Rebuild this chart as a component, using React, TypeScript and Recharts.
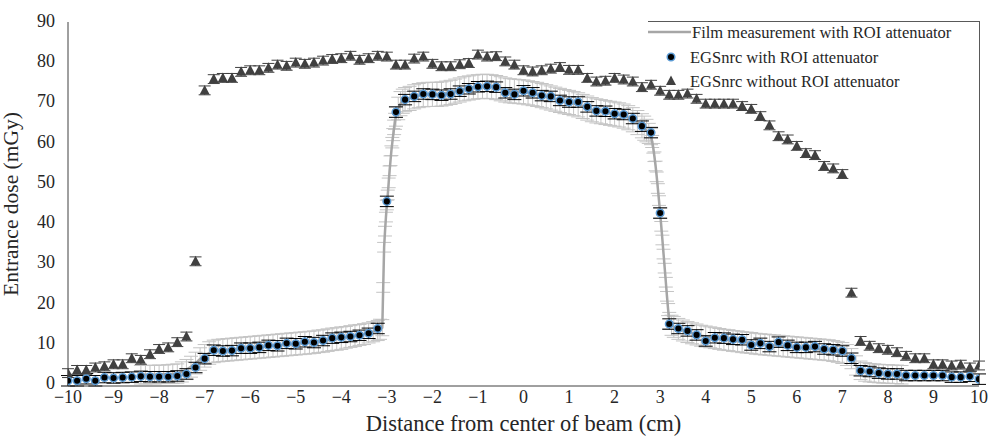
import React from 'react';
import { ComposedChart, Line, Scatter, XAxis, YAxis, ErrorBar } from 'recharts';

// Simulation grid (cm), every 0.2 cm from -10 to 10
const simPos = Array.from({ length: 101 }, (_, i) => Math.round((-10 + i * 0.2) * 10) / 10);

// EGSnrc with ROI attenuator (mGy)
const withRoi = [
  0.8, 0.8, 1.3, 0.8, 1.6, 1.5, 1.6, 1.7, 1.9, 1.8, 1.8, 1.8, 2.0, 2.5, 4.1, 6.3, 8.4, 8.2,
  8.3, 8.9, 8.9, 9.1, 9.6, 9.5, 10.1, 10.0, 10.5, 10.3, 10.8, 11.4, 11.6, 11.8, 12.1, 12.6, 13.8,
  45.4,
  67.6, 70.7, 71.5, 72.1, 72.0, 71.8, 72.1, 72.8, 73.4, 73.9, 74.0, 73.8, 72.4, 72.0, 72.9,
  72.4, 71.7, 71.5, 70.5, 70.1, 70.1, 68.9, 67.9, 67.8, 67.2, 67.0, 66.0, 64.1, 62.5,
  42.5,
  14.9, 13.8, 13.2, 12.2, 10.7, 11.5, 11.4, 11.1, 11.0, 9.7, 10.1, 9.3, 10.4, 9.6, 9.1, 9.1,
  9.3, 8.7, 8.5, 8.2, 6.4, 3.3, 3.1, 2.7, 2.5, 2.5, 2.1, 2.1, 2.1, 2.1, 2.1, 1.7, 1.7, 1.9, 1.2,
];
const withRoiErr = 1.3;

// EGSnrc without ROI attenuator (mGy)
const withoutRoi = [
  2.7, 3.5, 3.5, 4.1, 4.4, 4.9, 4.9, 6.4, 6.0, 7.4, 8.7, 9.1, 10.4, 11.8,
  30.5,
  73.0, 75.8, 76.1, 76.1, 77.6, 78.0, 78.0, 78.6, 79.4, 79.1, 79.9, 79.6, 79.9, 80.4, 80.8,
  81.0, 81.6, 80.6, 81.0, 81.6, 81.4, 79.4, 79.4, 80.9, 81.4, 79.6, 79.0, 79.0, 79.5, 79.8,
  81.9, 81.4, 81.5, 80.2, 79.4, 78.0, 77.7, 78.0, 78.4, 78.8, 78.1, 78.1, 76.1, 75.2, 75.4,
  76.1, 75.7, 75.2, 73.8, 74.4, 72.9, 71.9, 71.9, 72.2, 70.9, 69.7, 69.7, 69.7, 69.7, 69.1,
  68.4, 66.6, 64.3, 61.6, 60.8, 59.2, 57.4, 56.9, 54.2, 53.6, 52.2,
  22.7,
  10.7, 9.5, 8.9, 8.5, 7.9, 7.0, 6.4, 6.4, 4.9, 4.9, 4.6, 4.8, 4.1, 4.6,
];
const withoutRoiErr = 1.1;

// Film measurement: [position cm, dose mGy, uncertainty mGy]
const filmLeft: [number, number, number][] = [
  [-8.4, 2.3, 2.3], [-8.3, 2.3, 2.3], [-8.2, 2.4, 2.3], [-8.1, 2.3, 2.3], [-8.0, 2.4, 2.3],
  [-7.9, 2.4, 2.3], [-7.8, 2.5, 2.3], [-7.7, 2.5, 2.4], [-7.6, 2.6, 2.4], [-7.5, 3.0, 2.5],
  [-7.4, 3.6, 2.5], [-7.3, 4.3, 2.6], [-7.2, 5.2, 2.7], [-7.1, 6.2, 2.8], [-7.0, 7.0, 2.8],
  [-6.9, 7.7, 2.8], [-6.8, 8.1, 2.8], [-6.7, 8.3, 2.8], [-6.6, 8.4, 2.8], [-6.5, 8.5, 2.8],
  [-6.4, 8.6, 2.8], [-6.3, 8.7, 2.8], [-6.2, 8.8, 2.8], [-6.1, 8.9, 2.8], [-6.0, 9.0, 2.8],
  [-5.9, 9.1, 2.8], [-5.8, 9.2, 2.8], [-5.7, 9.3, 2.8], [-5.6, 9.4, 2.8], [-5.5, 9.5, 2.8],
  [-5.4, 9.6, 2.8], [-5.3, 9.7, 2.8], [-5.2, 9.8, 2.8], [-5.1, 9.9, 2.8], [-5.0, 10.0, 2.8],
  [-4.9, 10.1, 2.8], [-4.8, 10.2, 2.8], [-4.7, 10.3, 2.8], [-4.6, 10.4, 2.8], [-4.5, 10.6, 2.8],
  [-4.4, 10.7, 2.8], [-4.3, 10.9, 2.8], [-4.2, 11.1, 2.8], [-4.1, 11.2, 2.8], [-4.0, 11.4, 2.8],
  [-3.9, 11.6, 2.7], [-3.8, 11.8, 2.7], [-3.7, 12.0, 2.7], [-3.6, 12.2, 2.6], [-3.5, 12.4, 2.6],
  [-3.4, 12.7, 2.5], [-3.3, 13.0, 2.5], [-3.2, 13.3, 2.5], [-3.15, 13.6, 2.5], [-3.1, 14.0, 2.0],
];
const filmEdgeLeft: [number, number, number][] = [
  [-3.08, 24.0, 1.2], [-3.06, 34.0, 1.2], [-3.04, 38.0, 1.2], [-3.02, 41.5, 1.2], [-3.0, 44.5, 1.2],
  [-2.98, 47.0, 1.2], [-2.96, 50.0, 1.2], [-2.94, 53.0, 1.2], [-2.92, 55.5, 1.2], [-2.9, 58.0, 1.2],
  [-2.88, 60.0, 1.3], [-2.86, 62.0, 1.5], [-2.84, 63.8, 1.8], [-2.82, 65.3, 2.0], [-2.8, 66.5, 2.4],
  [-2.75, 68.5, 2.8], [-2.7, 69.7, 3.0], [-2.65, 70.3, 3.0], [-2.6, 70.7, 3.0],
];
const filmPlateau: [number, number, number][] = [
  [-2.5, 71.0, 3.0], [-2.4, 71.4, 3.0], [-2.3, 71.7, 3.0], [-2.2, 71.9, 3.0], [-2.1, 72.0, 3.0],
  [-2.0, 72.0, 3.0], [-1.9, 72.0, 3.0], [-1.8, 72.1, 3.0], [-1.7, 72.3, 3.0], [-1.6, 72.5, 3.0],
  [-1.5, 72.8, 3.0], [-1.4, 73.1, 3.0], [-1.3, 73.4, 3.0], [-1.2, 73.6, 3.0], [-1.1, 73.8, 3.0],
  [-1.0, 73.9, 3.0], [-0.9, 74.0, 3.0], [-0.8, 74.0, 3.0], [-0.7, 73.9, 3.0], [-0.6, 73.7, 3.0],
  [-0.5, 73.4, 3.0], [-0.4, 73.1, 3.0], [-0.3, 72.9, 3.0], [-0.2, 72.8, 3.0], [-0.1, 72.7, 3.0],
  [0.0, 72.6, 3.0], [0.1, 72.4, 3.0], [0.2, 72.2, 3.0], [0.3, 72.0, 3.0], [0.4, 71.7, 3.0],
  [0.5, 71.4, 3.0], [0.6, 71.1, 3.0], [0.7, 70.8, 3.0], [0.8, 70.5, 3.0], [0.9, 70.2, 3.0],
  [1.0, 70.0, 3.0], [1.1, 69.7, 3.0], [1.2, 69.4, 3.0], [1.3, 69.0, 3.0], [1.4, 68.6, 3.0],
  [1.5, 68.2, 3.0], [1.6, 67.9, 3.0], [1.7, 67.7, 3.0], [1.8, 67.5, 3.0], [1.9, 67.3, 3.0],
  [2.0, 67.1, 3.0], [2.1, 66.9, 3.0], [2.2, 66.6, 3.0], [2.3, 66.2, 3.0], [2.4, 65.7, 3.0],
  [2.5, 65.0, 3.0], [2.6, 64.2, 3.0], [2.65, 63.6, 3.0], [2.7, 63.0, 2.8], [2.75, 62.3, 2.5],
];
const filmEdgeRight: [number, number, number][] = [
  [2.8, 61.5, 2.0], [2.825, 60.3, 1.5], [2.85, 58.6, 1.2], [2.875, 56.5, 1.2], [2.9, 54.2, 1.2],
  [2.925, 51.5, 1.2], [2.95, 48.6, 1.2], [2.975, 45.6, 1.2], [3.0, 42.5, 1.2], [3.025, 39.2, 1.2],
  [3.05, 35.8, 1.2], [3.075, 32.3, 1.2], [3.1, 28.8, 1.2], [3.125, 25.3, 1.2], [3.15, 21.8, 1.2],
  [3.175, 18.5, 1.5], [3.2, 15.8, 2.0], [3.25, 14.6, 2.5],
];
const filmRight: [number, number, number][] = [
  [3.3, 14.2, 2.6], [3.4, 13.7, 2.6], [3.5, 13.3, 2.6], [3.6, 12.9, 2.6], [3.7, 12.6, 2.6],
  [3.8, 12.3, 2.6], [3.9, 12.0, 2.6], [4.0, 11.8, 2.6], [4.1, 11.6, 2.6], [4.2, 11.4, 2.6],
  [4.3, 11.2, 2.6], [4.4, 11.0, 2.6], [4.5, 10.9, 2.6], [4.6, 10.7, 2.6], [4.7, 10.6, 2.6],
  [4.8, 10.4, 2.6], [4.9, 10.3, 2.6], [5.0, 10.2, 2.6], [5.1, 10.0, 2.6], [5.2, 9.9, 2.6],
  [5.3, 9.8, 2.6], [5.4, 9.7, 2.6], [5.5, 9.6, 2.6], [5.6, 9.5, 2.6], [5.7, 9.4, 2.6],
  [5.8, 9.3, 2.6], [5.9, 9.2, 2.6], [6.0, 9.1, 2.6], [6.1, 9.0, 2.6], [6.2, 8.9, 2.6],
  [6.3, 8.8, 2.6], [6.4, 8.7, 2.6], [6.5, 8.6, 2.6], [6.6, 8.5, 2.6], [6.7, 8.4, 2.6],
  [6.8, 8.2, 2.6], [6.9, 8.0, 2.6], [7.0, 7.7, 2.6], [7.1, 7.2, 2.6], [7.2, 6.3, 2.5],
  [7.3, 4.6, 2.4], [7.4, 3.4, 2.3], [7.5, 3.0, 2.3], [7.6, 2.8, 2.3], [7.7, 2.7, 2.3],
  [7.8, 2.6, 2.3], [7.9, 2.5, 2.3], [8.0, 2.5, 2.3], [8.1, 2.4, 2.3], [8.2, 2.4, 2.3],
  [8.3, 2.3, 2.3],
];

const xTicks = [-10, -9, -8, -7, -6, -5, -4, -3, -2, -1, 0, 1, 2, 3, 4, 5, 6, 7, 8, 9, 10];
const yTicks = [0, 10, 20, 30, 40, 50, 60, 70, 80, 90];

const FONT = '"Liberation Serif", "Times New Roman", Times, serif';
const TEXT = '#262626';
const FILM = '#A6A6A6';
const FILM_ERR = '#C4C4C4';
const BLUE = '#5B9BD5';
const TRI = '#404040';

const filmData = [...filmLeft, ...filmEdgeLeft, ...filmPlateau, ...filmEdgeRight, ...filmRight].map(
  ([x, y, err]) => ({ x, y, err }),
);
const withRoiData = simPos.map((x, i) => ({ x, y: withRoi[i], err: withRoiErr }));
const withoutRoiData = simPos.map((x, i) => ({ x, y: withoutRoi[i], err: withoutRoiErr }));

const fmtX = (v: number) => (v < 0 ? `\u2212${Math.abs(v)}` : `${v}`);

const Dot = (p: any) => (
  <circle cx={p.cx} cy={p.cy} r={3.8} fill="#000" stroke={BLUE} strokeWidth={1.5} />
);

const Tri = (p: any) => (
  <path d={`M${p.cx},${p.cy - 5.5} L${p.cx + 5},${p.cy + 4} L${p.cx - 5},${p.cy + 4} Z`} fill={TRI} />
);

const XTick = (p: any) => (
  <text x={p.x} y={p.y} dy={15} textAnchor="middle" fontFamily={FONT} fontSize={18} fill={TEXT}>
    {fmtX(p.payload.value)}
  </text>
);

const YTick = (p: any) => (
  <text x={p.x} y={p.y} dy={5} textAnchor="end" fontFamily={FONT} fontSize={18} fill={TEXT}>
    {p.payload.value}
  </text>
);

const LegendBox = () => (
  <svg width={990} height={438} style={{ position: 'absolute', left: 0, top: 0, pointerEvents: 'none' }}>
    <line x1={648} y1={21.5} x2={979.5} y2={21.5} stroke="#595959" strokeWidth={1} />
    <line x1={979.5} y1={21} x2={979.5} y2={367} stroke="#595959" strokeWidth={1} />
    <line x1={648} y1={32} x2={691} y2={32} stroke={FILM} strokeWidth={2.5} />
    <g fontFamily={FONT} fontSize={16.5} fill={TEXT}>
      <text x={692} y={37.5}>Film measurement with ROI attenuator</text>
      <text x={690} y={62.5}>EGSnrc with ROI attenuator</text>
      <text x={690} y={87}>EGSnrc without ROI attenuator</text>
    </g>
    <circle cx={671} cy={57} r={3.8} fill="#000" stroke={BLUE} strokeWidth={1.5} />
    <path d="M671,75.5 L676,85 L666,85 Z" fill={TRI} />
  </svg>
);

export default function App() {
  return (
    <div
      style={{
        position: 'absolute',
        left: 0,
        top: 0,
        width: 990,
        height: 438,
        background: '#fff',
        fontFamily: FONT,
      }}
    >
      <ComposedChart width={990} height={438} margin={{ top: 22, right: 11, bottom: 0, left: 0 }}>
        <XAxis
          type="number"
          dataKey="x"
          domain={[-10, 10]}
          ticks={xTicks}
          interval={0}
          allowDataOverflow
          height={52}
          tickLine={false}
          tickSize={0}
          tickMargin={2}
          axisLine={{ stroke: '#404040', strokeWidth: 1 }}
          tick={<XTick />}
          label={{
            value: 'Distance from center of beam (cm)',
            position: 'insideBottom',
            offset: 7,
            style: { fontFamily: FONT, fontSize: 22.5, fill: TEXT },
          }}
        />
        <YAxis
          type="number"
          dataKey="y"
          domain={[0, 90]}
          ticks={yTicks}
          interval={0}
          width={68}
          tickLine={false}
          tickSize={0}
          tickMargin={13}
          axisLine={{ stroke: '#404040', strokeWidth: 1 }}
          tick={<YTick />}
          label={{
            value: 'Entrance dose (mGy)',
            angle: -90,
            position: 'insideLeft',
            offset: 10,
            textAnchor: 'middle',
            style: { fontFamily: FONT, fontSize: 21.5, fill: TEXT, textAnchor: 'middle' },
          }}
        />
        <Line
          data={filmData}
          dataKey="y"
          type="linear"
          stroke={FILM}
          strokeWidth={2.5}
          dot={false}
          isAnimationActive={false}
        >
          <ErrorBar dataKey="err" direction="y" width={7} stroke={FILM_ERR} strokeWidth={1} />
        </Line>
        <Scatter data={withRoiData} dataKey="y" shape={Dot} isAnimationActive={false}>
          <ErrorBar dataKey="err" direction="y" width={7} stroke="#000" strokeWidth={1} />
        </Scatter>
        <Scatter data={withoutRoiData} dataKey="y" shape={Tri} isAnimationActive={false}>
          <ErrorBar dataKey="err" direction="y" width={6} stroke={TRI} strokeWidth={1} />
        </Scatter>
      </ComposedChart>
      <LegendBox />
    </div>
  );
}
